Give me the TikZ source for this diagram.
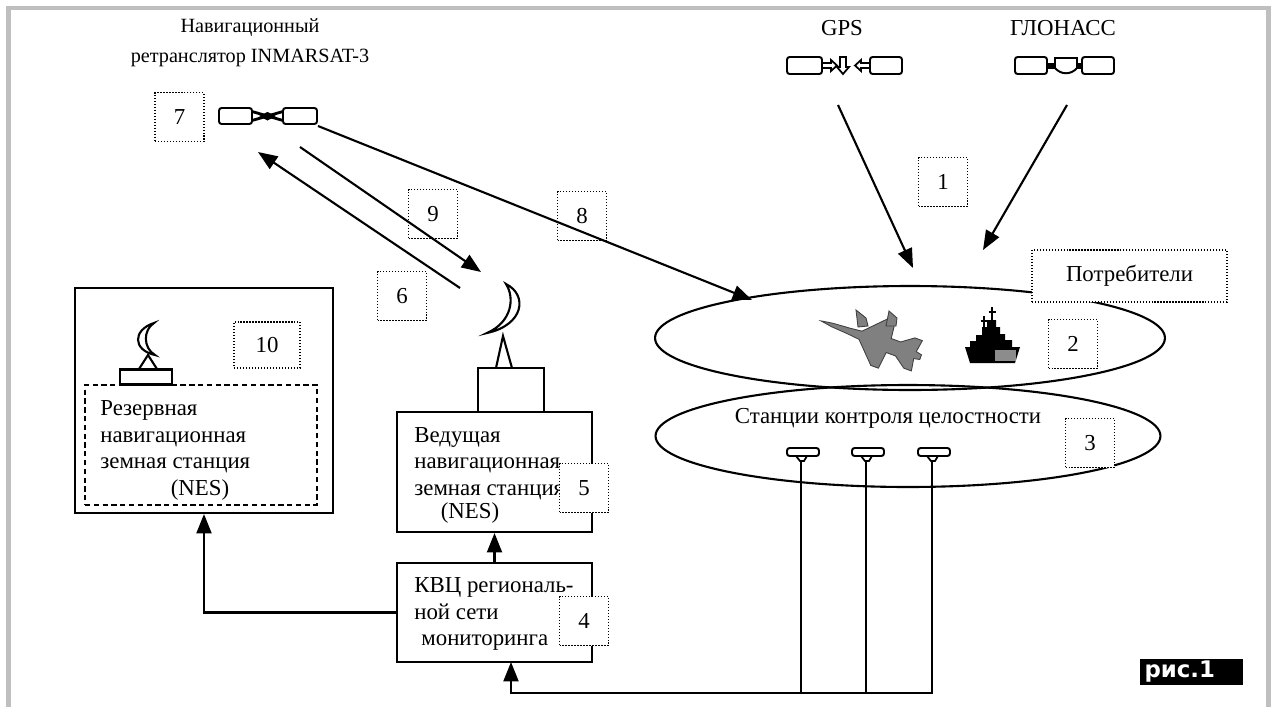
\documentclass[tikz,border=0pt]{standalone}
\usepackage{fontspec}
\setmainfont{Liberation Serif}
\newfontfamily\figfont{DejaVu Sans}
\usetikzlibrary{arrows.meta,shapes.geometric}
\begin{document}
\begin{tikzpicture}[x=0.02cm,y=-0.02cm,
  every node/.style={font=\fontsize{13}{15}\selectfont, inner sep=0pt},
  tagbox/.style={draw, densely dotted, line width=0.7pt, fill=white,
    minimum width=0.98cm, minimum height=0.98cm},
  unitbox/.style={draw, line width=1.2pt, fill=white},
  txt/.style={align=left, anchor=west},
  link/.style={line width=1.2pt, -{Triangle[length=11pt,width=8.5pt]}},
  wire/.style={line width=1.2pt},
  icon/.style={line width=1.1pt, rounded corners=1.5pt},
  zone/.style={draw, ellipse, line width=1.2pt},
  frameline/.style={draw=black!25, line width=2.8pt},
]
\useasboundingbox (0,0) rectangle (1272,707);

% outer frame
\draw[frameline] (8.5,707) -- (8.5,8) -- (1268.5,8) -- (1268.5,707);

% ---------- titles ----------
\node[align=center, font=\fontsize{11.5}{17}\selectfont] (relaytitle) at (250,43)
  {Навигационный\\ретранслятор INMARSAT-3};
\node (gpsname) at (842,28) {GPS};
\node (glnname) at (1063,28) {ГЛОНАСС};

% ---------- GPS satellite ----------
\draw[icon] (787,57) rectangle (822,74);
\draw[icon] (870,57) rectangle (902,74);
\draw[line width=1pt] (822,63) -- (831,63) -- (831,60) -- (837,65.5) -- (831,71) -- (831,68) -- (822,68);
\draw[line width=1pt] (840,57) -- (846,57) -- (846,67) -- (849,67) -- (843,74) -- (837,67) -- (840,67) -- cycle;
\draw[line width=1pt] (870,63) -- (861,63) -- (861,60) -- (855,65.5) -- (861,71) -- (861,68) -- (870,68);

% ---------- GLONASS satellite ----------
\draw[icon] (1015,57) rectangle (1047,74);
\draw[icon] (1082,57) rectangle (1114,74);
\fill (1047,62.5) rectangle (1055,68.5);
\fill (1077,62.5) rectangle (1082,68.5);
\draw[line width=1.1pt] (1055,58) -- (1077,58) -- (1077,68)
  .. controls (1071,75) and (1061,75) .. (1055,68) -- cycle;

% ---------- INMARSAT-3 relay ----------
\draw[icon] (219,108) rectangle (252,124);
\draw[icon] (283,108) rectangle (317,124);
\draw[line width=1.6pt] (252,111.5) -- (283,120.5);
\draw[line width=1.6pt] (252,120.5) -- (283,111.5);
\fill (259,116) -- (267.5,112) -- (276,116) -- (267.5,120.5) -- cycle;

% ---------- user zone and monitoring zone ----------
\node[zone, minimum width=10.2cm, minimum height=2.08cm] (users) at (910,338) {};
\node[zone, minimum width=10.1cm, minimum height=2.04cm] (monitor) at (908,436) {};
\node (monname) at (888,418) {Станции контроля целостности};

% fighter aircraft (plan view, tilted)
\begin{scope}[shift={(868,338)}, rotate=160, yscale=0.62]
  \filldraw[fill=black!50, draw=black!75, line width=0.5pt]
    (50,0) -- (38,-3) -- (20,-5) -- (8,-7) -- (-12,-40) -- (-20,-40) -- (-22,-12)
    -- (-32,-12) -- (-44,-26) -- (-52,-26) -- (-50,-6) -- (-56,-4) -- (-56,4)
    -- (-50,6) -- (-52,26) -- (-44,26) -- (-32,12) -- (-22,12) -- (-20,40)
    -- (-12,40) -- (8,7) -- (20,5) -- (38,3) -- cycle;
\end{scope}
\filldraw[fill=black!50, draw=black!75, line width=0.5pt]
  (858,327) -- (856,310) -- (866,318) -- (868,326) -- cycle;
\filldraw[fill=black!50, draw=black!75, line width=0.5pt]
  (886,326) -- (889,311) -- (897,318) -- (896,326) -- cycle;

% warship
\fill (965,347) -- (1020,347) -- (1015,363) -- (970,363) -- cycle;
\fill (970,347) -- (970,341) -- (976,341) -- (976,335) -- (982,335) -- (982,327)
  -- (987,327) -- (987,320) -- (996,320) -- (996,327) -- (1000,327) -- (1000,334)
  -- (1005,334) -- (1005,340) -- (1012,340) -- (1012,347) -- cycle;
\draw[line width=1.3pt] (992,307) -- (992,321);
\draw[line width=1pt] (988.5,312) -- (995.5,312);
\draw[line width=1.3pt] (984,316) -- (984,328);
\draw[line width=1pt] (980.5,321) -- (987.5,321);
\fill[black!45] (995,350) rectangle (1016,361);

% ---------- integrity monitoring stations ----------
\foreach \cx/\nm in {803/s1, 868/s2, 934/s3} {
  \draw[icon] ({\cx-16},448) rectangle ({\cx+16},456);
  \draw[line width=1pt] ({\cx-7},456) -- ({\cx-3},461) -- ({\cx+1},461) -- ({\cx+4},456);
  \coordinate (\nm) at ({\cx-2},461);
}
\coordinate (bus) at (932,693);
\coordinate (kin) at (511,662);

% ---------- ground segment ----------
\node[unitbox, minimum width=5.16cm, minimum height=4.5cm] (res) at (204,400.5) {};
\node[draw, dashed, dash pattern=on 3pt off 2pt, line width=1.1pt,
  minimum width=4.64cm, minimum height=2.4cm] (resin) at (201,445) {};
\node[txt] (restext) at (100,437) {Резервная\\навигационная\\земная станция};
\node (resnes) at (200,490) {(NES)};
\node[unitbox, minimum width=1.04cm, minimum height=0.3cm] (resped) at (146,377) {};

\node[unitbox, minimum width=3.9cm, minimum height=2.4cm] (ned) at (494.5,472) {};
\node[txt] (nedtext) at (414,463.5) {Ведущая\\навигационная\\земная станция};
\node (nednes) at (470,513) {(NES)};
\node[unitbox, minimum width=1.32cm, minimum height=0.88cm] (nedped) at (511,390) {};

\node[unitbox, minimum width=3.9cm, minimum height=1.98cm] (kvc) at (494.5,612.5) {};
\node[txt] (kvctext) at (414,614) {КВЦ региональ-\\ной сети\\\hspace{4pt}мониторинга};

% dish antennas
\draw[line width=1.2pt, fill=white] (506,284) .. controls (528,295) and (524,325) .. (487,333)
  .. controls (512,322) and (515,298) .. (506,284) -- cycle;
\draw[line width=1.2pt] (496,368) -- (503,336) -- (512,368);
\draw[line width=1.2pt, fill=white] (154,323) .. controls (132.5,330) and (132.5,350) .. (155,355)
  .. controls (143,348) and (143,330) .. (154,323) -- cycle;
\draw[line width=1.2pt] (139,369) -- (148,355) -- (157,369);

% ---------- numbered tags ----------
\node[tagbox] (t1) at (943,182) {1};
\node[tagbox] (t2) at (1073,344) {2};
\node[tagbox] (t3) at (1090,443) {3};
\node[tagbox] (t4) at (584,621) {4};
\node[tagbox] (t5) at (584,488) {5};
\node[tagbox] (t6) at (402,296) {6};
\node[tagbox] (t7) at (179.5,117) {7};
\node[tagbox] (t8) at (582,216) {8};
\node[tagbox] (t9) at (433,214) {9};
\node[tagbox, minimum width=1.32cm, minimum height=0.92cm] (t10) at (267,345) {10};
\node[tagbox, minimum width=3.9cm, minimum height=1.04cm] (usersname) at (1129.5,276) {Потребители};

% ---------- radio links ----------
\coordinate (gpsout) at (838,105);
\coordinate (gpsin) at (913,268);
\coordinate (glnout) at (1067,105);
\coordinate (glnin) at (983,250);
\coordinate (relayout) at (318,126);
\coordinate (usersin) at (752,300);
\coordinate (upfrom) at (300,147);
\coordinate (dishin) at (481,272);
\coordinate (dishout) at (460,288);
\coordinate (relayin) at (258,152);
\draw[link] (gpsout) -- (gpsin);
\draw[link] (glnout) -- (glnin);
\draw[link] (relayout) -- (usersin);
\draw[link] (upfrom) -- (dishin);
\draw[link] (dishout) -- (relayin);

% ---------- ground links ----------
\draw[link] (kvc.north) -- (ned.south);
\draw[link] (kvc.west) -| (res.south);
\draw[wire] (s1) -- (s1 |- bus);
\draw[wire] (s2) -- (s2 |- bus);
\draw[link] (s3) -- (bus) -| (kin);

% figure tag
\node[fill=black, text=white, font=\figfont\bfseries\fontsize{13}{13}\selectfont,
  minimum width=2.06cm, minimum height=0.52cm, text width=1.86cm, align=left] (figtag) at (1191,672) {рис.1};
\end{tikzpicture}
\end{document}
